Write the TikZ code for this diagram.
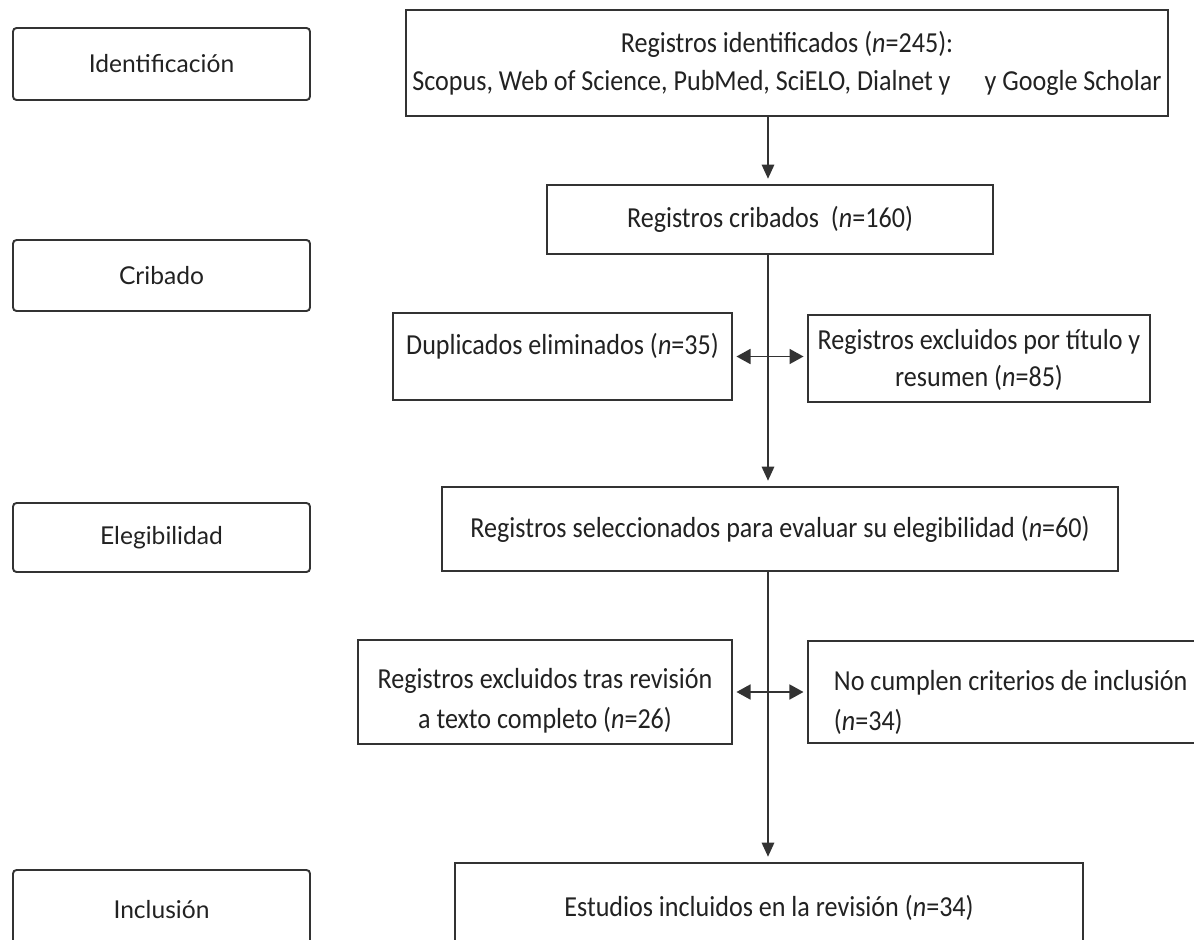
\documentclass[tikz,border=0pt]{standalone}
\usepackage{fontspec}
\setmainfont[FakeStretch=0.9]{Carlito}
\newfontfamily\labelfont{Lato}
\usetikzlibrary{arrows.meta}
\definecolor{linecol}{HTML}{333333}
\definecolor{txtcol}{HTML}{222222}
\tikzset{
  stagebox/.style={draw=linecol, line width=1.1pt, rounded corners=2pt, minimum width=5.94cm,
    text=txtcol, font=\labelfont\fontsize{14}{17}\selectfont, inner sep=0pt},
  flowbox/.style={draw=linecol, line width=1.1pt, text=txtcol, align=center,
    font=\fontsize{16.5}{21.5}\selectfont, inner sep=0pt},
  widelines/.style={font=\fontsize{16.5}{23}\selectfont},
  arr/.style={draw=linecol, line width=1.1pt, -{Triangle[length=8pt,width=7pt]}, shorten >=3pt},
  darr/.style={draw=linecol, line width=1.1pt, {Triangle[length=8pt,width=8.5pt]}-{Triangle[length=8pt,width=8.5pt]}, shorten >=2pt, shorten <=2pt}
}
\begin{document}
\begin{tikzpicture}[x=0.02cm,y=-0.02cm]
\useasboundingbox[fill=white] (0,0) rectangle (1194,940);
% stage labels
\node[stagebox, minimum height=1.44cm] (L1) at (161.5,64) {Identificación};
\node[stagebox, minimum height=1.42cm] (L2) at (161.5,275.5) {Cribado};
\node[stagebox, minimum height=1.38cm] (L3) at (161.5,537.5) {Elegibilidad};
\node[stagebox, minimum height=1.6cm] (L4) at (161.5,910) {Inclusión};
% flow boxes
\node[flowbox, minimum width=15.24cm, minimum height=2.12cm] (T1) at (787,63)
  {Registros identificados (\textit{n}=245):\\Scopus, Web of Science, PubMed, SciELO, Dialnet y\hspace{16pt} y Google Scholar};
\node[flowbox, minimum width=8.92cm, minimum height=1.38cm] (T2) at (770,219.5)
  {Registros cribados \ (\textit{n}=160)};
\node[flowbox, minimum width=6.78cm, minimum height=1.74cm, text depth=14pt] (D) at (562.5,356.5)
  {Duplicados eliminados (\textit{n}=35)};
\node[flowbox, font=\fontsize{16.5}{21}\selectfont, minimum width=6.84cm, minimum height=1.74cm, text height=32pt, text depth=0pt] (E) at (979,358.5)
  {Registros excluidos por título y\\resumen (\textit{n}=85)};
\node[flowbox, minimum width=13.52cm, minimum height=1.68cm] (S) at (780,529)
  {Registros seleccionados para evaluar su elegibilidad (\textit{n}=60)};
\node[flowbox, widelines, minimum width=7.48cm, minimum height=2.08cm, text height=42pt, text depth=0pt] (R) at (545,692)
  {Registros excluidos tras revisión\\a texto completo (\textit{n}=26)};
\node[flowbox, widelines, minimum height=2.04cm, text height=44pt, text depth=0pt, inner xsep=0.52cm, align=left, anchor=west] (N) at (807,692)
  {No cumplen criterios de inclusión\hspace*{40pt}\\(\textit{n}=34)};
\node[flowbox, minimum width=12.56cm, minimum height=1.8cm] (F) at (769,908)
  {Estudios incluidos en la revisión (\textit{n}=34)};
% connectors
\coordinate (col) at (768,0);
\draw[arr] (T1.south -| col) -- (T2.north -| col);
\draw[arr] (T2.south -| col) -- (S.north -| col);
\draw[arr] (S.south -| col) -- (F.north -| col);
\draw[darr] (D.east) -- (D.east -| E.west);
\draw[darr] (R.east) -- (R.east -| N.west);
\end{tikzpicture}
\end{document}
